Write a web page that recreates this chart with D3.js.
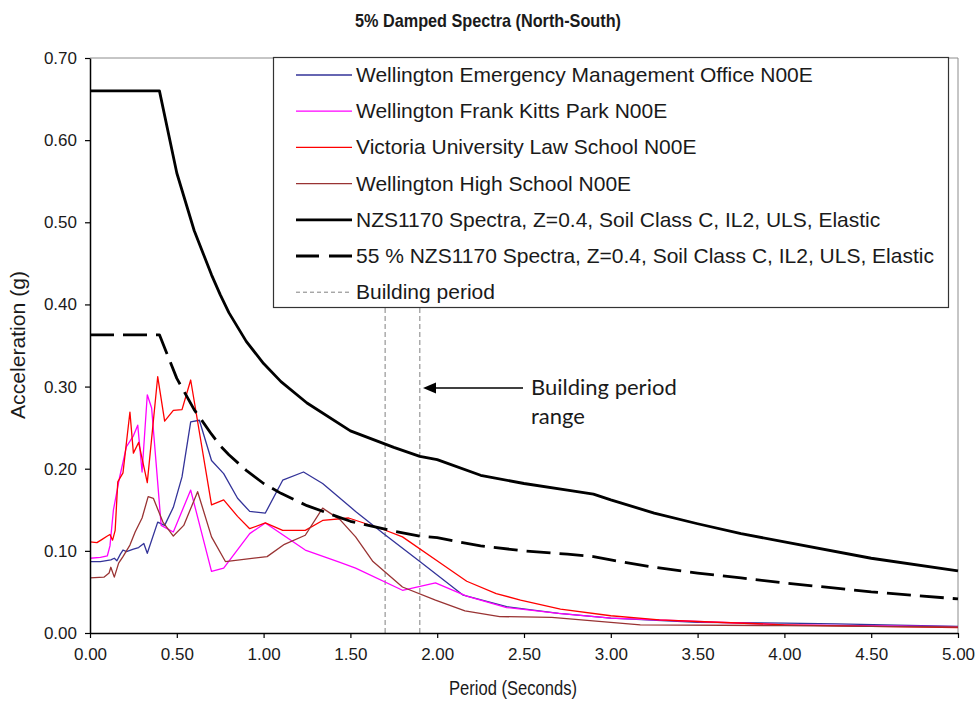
<!DOCTYPE html>
<html lang="en"><head>
<meta charset="utf-8">
<title>5% Damped Spectra (North-South)</title>
<script src="https://cdnjs.cloudflare.com/ajax/libs/d3/7.8.5/d3.min.js"></script>
<style>
body { margin: 0; background: #fff; }
text { font-family: "Liberation Sans", Arial, sans-serif; fill: #1a1a1a; }
.tick text { font-family: "Liberation Sans", Arial, sans-serif; font-size: 17px; fill: #1a1a1a; }
</style>
</head>
<body>
<svg id="chart" width="976" height="702"></svg>
<script>
// [period (s), acceleration (g)]
var emo = [[0,0.087],[0.06,0.087],[0.12,0.089],[0.14,0.091],[0.155,0.088],[0.175,0.096],[0.19,0.101],[0.21,0.099],[0.25,0.102],[0.28,0.104],[0.31,0.109],[0.33,0.097],[0.39,0.135],[0.43,0.131],[0.48,0.153],[0.53,0.19],[0.58,0.257],[0.63,0.259],[0.70,0.21],[0.77,0.194],[0.85,0.164],[0.92,0.148],[1.01,0.146],[1.11,0.186],[1.23,0.196],[1.34,0.182],[1.53,0.148],[1.69,0.121],[1.90,0.087],[2.15,0.046],[2.40,0.032],[2.70,0.024],[3.00,0.018],[3.50,0.013],[4.00,0.012],[4.30,0.011],[5.00,0.008]];
var fkp = [[0,0.091],[0.06,0.092],[0.10,0.094],[0.115,0.106],[0.135,0.15],[0.17,0.189],[0.21,0.227],[0.25,0.24],[0.275,0.253],[0.30,0.196],[0.33,0.290],[0.355,0.274],[0.41,0.131],[0.48,0.123],[0.58,0.174],[0.70,0.075],[0.77,0.079],[0.92,0.121],[1.01,0.134],[1.24,0.101],[1.44,0.086],[1.53,0.079],[1.80,0.052],[1.99,0.061],[2.17,0.045],[2.40,0.031],[2.70,0.024],[3.00,0.018],[3.50,0.014],[4.00,0.010],[5.00,0.0077]];
var vuw = [[0,0.111],[0.04,0.11],[0.07,0.114],[0.10,0.118],[0.115,0.120],[0.13,0.113],[0.145,0.125],[0.16,0.184],[0.19,0.195],[0.23,0.269],[0.25,0.219],[0.28,0.232],[0.33,0.183],[0.39,0.312],[0.43,0.258],[0.48,0.271],[0.53,0.272],[0.58,0.308],[0.70,0.156],[0.77,0.162],[0.85,0.142],[0.92,0.127],[1.01,0.134],[1.11,0.125],[1.24,0.125],[1.34,0.137],[1.49,0.140],[1.69,0.126],[1.80,0.117],[2.02,0.085],[2.17,0.063],[2.34,0.048],[2.48,0.040],[2.71,0.029],[3.00,0.021],[3.28,0.016],[3.50,0.014],[4.00,0.010],[4.50,0.008],[5.00,0.0065]];
var whs = [[0,0.067],[0.08,0.068],[0.11,0.073],[0.12,0.080],[0.14,0.068],[0.165,0.085],[0.19,0.093],[0.23,0.107],[0.26,0.123],[0.30,0.140],[0.335,0.166],[0.365,0.164],[0.42,0.135],[0.48,0.118],[0.54,0.131],[0.62,0.172],[0.70,0.117],[0.78,0.087],[1.02,0.093],[1.12,0.108],[1.24,0.119],[1.34,0.152],[1.44,0.138],[1.53,0.117],[1.63,0.087],[1.80,0.056],[1.99,0.040],[2.16,0.027],[2.36,0.020],[2.66,0.019],[3.17,0.010],[4.00,0.009],[5.00,0.0073]];
var nzs = [[0,0.66],[0.4,0.66],[0.5,0.56],[0.6,0.49],[0.7,0.436],[0.75,0.412],[0.8,0.39],[0.9,0.355],[1.0,0.328],[1.1,0.306],[1.25,0.28],[1.5,0.246],[1.75,0.226],[1.9,0.215],[2.0,0.211],[2.25,0.192],[2.5,0.182],[2.75,0.174],[2.9,0.169],[3.0,0.162],[3.25,0.146],[3.5,0.133],[3.75,0.121],[4.0,0.111],[4.5,0.091],[5.0,0.0755]];
var nzs55 = [[0,0.363],[0.4,0.363],[0.5,0.31],[0.6,0.272],[0.7,0.242],[0.75,0.228],[0.8,0.217],[0.9,0.198],[1.0,0.182],[1.1,0.170],[1.25,0.155],[1.5,0.136],[1.75,0.124],[1.9,0.118],[2.0,0.116],[2.25,0.106],[2.5,0.100],[2.75,0.096],[2.9,0.093],[3.0,0.089],[3.25,0.080],[3.5,0.073],[3.75,0.067],[4.0,0.061],[4.5,0.050],[5.0,0.0415]];
var buildingPeriods = [1.7, 1.9];

var xTicks = [0,0.5,1,1.5,2,2.5,3,3.5,4,4.5,5];
var yTicks = [0,0.1,0.2,0.3,0.4,0.5,0.6,0.7];

var series = [
  {name: "Wellington Emergency Management Office N00E", data: emo, color: "#333399", w: 1.3},
  {name: "Wellington Frank Kitts Park N00E", data: fkp, color: "#ff00ff", w: 1.3},
  {name: "Victoria University Law School N00E", data: vuw, color: "#ff0000", w: 1.3},
  {name: "Wellington High School N00E", data: whs, color: "#993333", w: 1.3},
  {name: "NZS1170 Spectra, Z=0.4, Soil Class C, IL2, ULS, Elastic", data: nzs, color: "#000", w: 2.8},
  {name: "55 % NZS1170 Spectra, Z=0.4, Soil Class C, IL2, ULS, Elastic", data: nzs55, color: "#000", w: 2.8, dash: "24,9"}
];

var svg = d3.select("#chart");
var x = d3.scaleLinear().domain([0, 5]).range([90, 958]);
var y = d3.scaleLinear().domain([0, 0.7]).range([633, 58]);

// title (original is a narrow rendering, so squeeze it a bit)
svg.append("text").attr("x", 488).attr("y", 27).attr("text-anchor", "middle")
  .attr("textLength", 266).attr("lengthAdjust", "spacingAndGlyphs")
  .style("font-size", "19px").style("font-weight", "bold").text("5% Damped Spectra (North-South)");

// plot frame (top + right in grey)
svg.append("path").attr("d", "M" + x(0) + "," + y(0.7) + "H" + x(5) + "V" + y(0))
  .attr("fill", "none").attr("stroke", "#8c8c8c").attr("stroke-width", 1);

// building period lines
svg.selectAll(".bp").data(buildingPeriods).enter().append("line")
  .attr("x1", d => x(d)).attr("x2", d => x(d))
  .attr("y1", y(0)).attr("y2", y(0.7))
  .attr("stroke", "#808080").attr("stroke-width", 1).attr("stroke-dasharray", "5,3");

var line = d3.line().x(d => x(d[0])).y(d => y(d[1]));

svg.selectAll(".series").data(series).enter().append("path")
  .attr("d", d => line(d.data))
  .attr("fill", "none")
  .attr("stroke", d => d.color)
  .attr("stroke-width", d => d.w)
  .attr("stroke-dasharray", d => d.dash || null)
  .attr("stroke-linejoin", "round");

// axes
svg.append("g").attr("transform", "translate(" + x(0) + ",0)")
  .call(d3.axisLeft(y).tickValues(yTicks).tickFormat(d3.format(".2f")).tickSize(5).tickSizeOuter(0).tickPadding(8));
svg.append("g").attr("transform", "translate(0," + y(0) + ")")
  .call(d3.axisBottom(x).tickValues(xTicks).tickFormat(d3.format(".2f")).tickSize(5).tickSizeOuter(0).tickPadding(10));
svg.selectAll(".domain").attr("stroke", "#000").attr("stroke-width", 1.5);
svg.selectAll(".tick line").attr("stroke", "#000").attr("stroke-width", 1.2);

svg.append("text").attr("transform", "translate(25,345) rotate(-90)").attr("text-anchor", "middle")
  .attr("textLength", 148).attr("lengthAdjust", "spacingAndGlyphs")
  .style("font-size", "20px").text("Acceleration (g)");
svg.append("text").attr("x", 513).attr("y", 695).attr("text-anchor", "middle")
  .attr("textLength", 128).attr("lengthAdjust", "spacingAndGlyphs")
  .style("font-size", "19.5px").text("Period (Seconds)");

// annotation
svg.append("line").attr("x1", 523).attr("y1", 388).attr("x2", 432).attr("y2", 388)
  .attr("stroke", "#000").attr("stroke-width", 1.3);
svg.append("path").attr("d", "M423,388L436,382.5L436,393.5Z").attr("fill", "#000");
svg.append("text").attr("x", 531).attr("y", 395).style("font-family", "Lato, 'Open Sans', sans-serif")
  .style("font-size", "22px").text("Building period");
svg.append("text").attr("x", 531).attr("y", 424).style("font-family", "Lato, 'Open Sans', sans-serif")
  .style("font-size", "22px").text("range");

// legend
var legendItems = series.concat([{name: "Building period", color: "#808080", w: 1, dash: "4,3"}]);
var legend = svg.append("g");
legend.append("rect").attr("x", 273.5).attr("y", 57.5).attr("width", 675).attr("height", 250)
  .attr("fill", "#fff").attr("stroke", "#333").attr("stroke-width", 1.2);
var li = legend.selectAll(".li").data(legendItems).enter().append("g")
  .attr("transform", (d, i) => "translate(0," + (75 + i * 36.2) + ")");
li.append("line").attr("x1", 296).attr("x2", 352).attr("y1", 0).attr("y2", 0)
  .attr("stroke", d => d.color)
  .attr("stroke-width", d => d.w)
  .attr("stroke-dasharray", d => d.dash ? (d.w > 2 ? "23,10" : d.dash) : null);
li.append("text").attr("x", 356).attr("y", 7).style("font-size", "21px").text(d => d.name);
</script>
</body></html>
